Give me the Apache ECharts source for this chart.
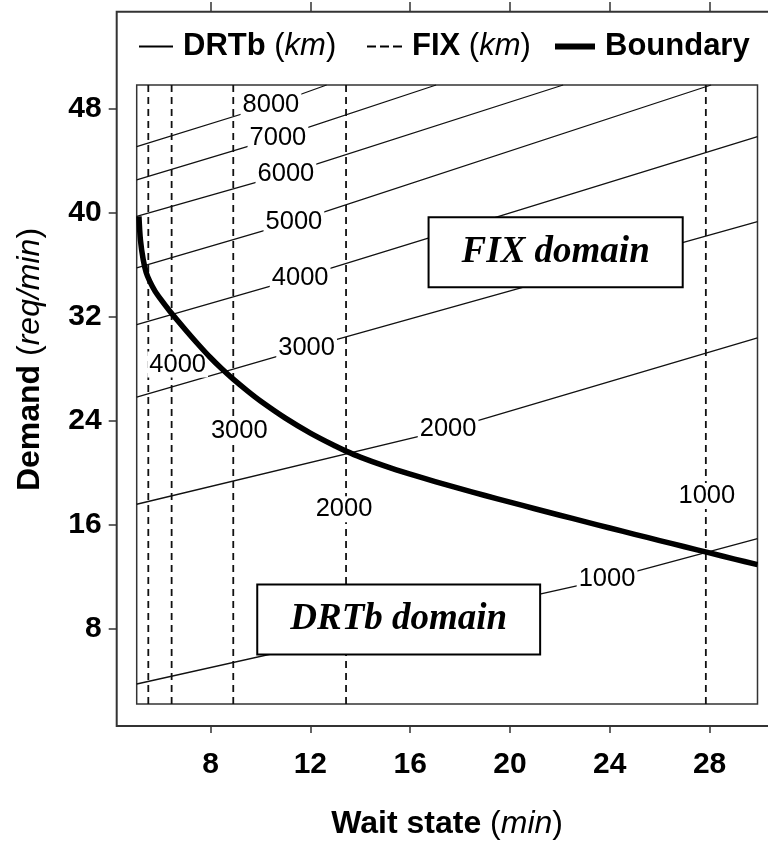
<!DOCTYPE html>
<html>
<head>
<meta charset="utf-8">
<script src="https://cdn.jsdelivr.net/npm/echarts@6/dist/echarts.min.js"></script>
<style>
  html, body { margin: 0; padding: 0; background: #fff; }
  #chart { width: 768px; height: 845px; }
</style>
</head>
<body>
<div id="chart"></div>
<script>
// Axis extents and tick values
const xRange = [5.04, 29.92];
const yRange = [2.18, 49.84];
const xTicks = [8, 12, 16, 20, 24, 28];
const yTicks = [8, 16, 24, 32, 40, 48];

// DRTb travel-distance contours (km): [wait, demand] vertices, middle vertex carries the label
const drtbLevels = [1000, 2000, 3000, 4000, 5000, 6000, 7000, 8000];
const drtb1000 = [[5.04, 3.72], [23.89, 11.79], [29.92, 14.92]];
const drtb2000 = [[5.04, 17.56], [17.52, 23.32], [29.92, 30.37]];
const drtb3000 = [[5.04, 25.8], [11.85, 29.6], [29.92, 39.33]];
const drtb4000 = [[5.04, 31.39], [11.59, 35.0], [29.92, 45.86]];
const drtb5000 = [[5.04, 35.75], [11.34, 39.3], [28.06, 49.84]];
const drtb6000 = [[5.04, 39.72], [11.02, 43.0], [22.13, 49.84]];
const drtb7000 = [[5.04, 42.54], [10.7, 45.8], [17.04, 49.84]];
const drtb8000 = [[5.04, 45.1], [10.42, 48.3], [12.65, 49.84]];
const drtbLines = [drtb1000, drtb2000, drtb3000, drtb4000, drtb5000, drtb6000, drtb7000, drtb8000];

// FIX travel-distance contours (km): vertical lines at a fixed wait state
const fixWait = [5.505, 6.44, 8.91, 13.43, 27.85];
const fixLevels = [null, 4000, 3000, 2000, 1000];
const fixLabelDemand = [null, 28.32, 23.19, 17.17, 18.19];

// Boundary between the two domains
const boundaryWait = [5.13, 5.19, 5.3, 5.42, 5.57, 5.78, 6.0, 6.37, 7.0, 7.5, 7.98, 8.45, 8.91, 9.5, 10, 11, 12, 13, 13.43, 14, 15, 16, 17, 18, 19, 20, 21, 22, 23, 24, 25, 26, 27, 28, 29, 29.92];
const boundaryDemand = [39.72, 37.9, 36.4, 35.4, 34.7, 33.95, 33.35, 32.42, 30.98, 29.88, 28.88, 27.99, 27.19, 26.25, 25.51, 24.19, 23.04, 22.04, 21.65, 21.19, 20.49, 19.87, 19.3, 18.76, 18.235, 17.72, 17.215, 16.715, 16.22, 15.73, 15.245, 14.765, 14.287, 13.812, 13.34, 12.91];

// Domain annotations
const domainNames = ['FIX domain', 'DRTb domain'];
const domainWait = [21.83, 15.54];
const domainDemand = [36.96, 8.68];

// ---- styling ----
const SANS = "'Liberation Sans', Arial, Helvetica, sans-serif";
const SERIF = "'Liberation Serif', 'Times New Roman', serif";
const INK = '#111';
const fixLabelShift = [0, 6, 6, -2, 1];

const chart = echarts.init(document.getElementById('chart'), null, { renderer: 'canvas' });

const contourLabel = {
  show: false,
  position: 'inside',
  fontFamily: SANS,
  fontSize: 25.5,
  color: '#000',
  backgroundColor: '#fff',
  padding: [0, 2]
};

const series = [];

drtbLines.forEach((pts, i) => {
  series.push({
    type: 'line',
    name: 'DRTb',
    z: 3,
    silent: true,
    animation: false,
    emphasis: { disabled: true },
    symbol: 'circle',
    symbolSize: 0,
    showSymbol: true,
    showAllSymbol: true,
    itemStyle: { color: INK },
    lineStyle: { color: INK, width: 1.3 },
    label: contourLabel,
    data: pts.map((p, j) => j === 1
      ? { value: p, label: { show: true, formatter: String(drtbLevels[i]) } }
      : { value: p })
  });
});

fixWait.forEach((w, i) => {
  const data = [[w, yRange[0]]];
  if (fixLevels[i] !== null) {
    data.push({
      value: [w, fixLabelDemand[i]],
      label: { show: true, formatter: String(fixLevels[i]), offset: [fixLabelShift[i], 0] }
    });
  }
  data.push([w, yRange[1]]);
  series.push({
    type: 'line',
    name: 'FIX',
    z: 3,
    silent: true,
    animation: false,
    emphasis: { disabled: true },
    symbol: 'circle',
    symbolSize: 0,
    showSymbol: true,
    showAllSymbol: true,
    itemStyle: { color: INK },
    lineStyle: { color: INK, width: 1.8, type: [7, 5] },
    label: contourLabel,
    data
  });
});

series.push({
  type: 'line',
  name: 'Boundary',
  z: 4,
  silent: true,
  animation: false,
  emphasis: { disabled: true },
  symbol: 'none',
  smooth: 0.3,
  itemStyle: { color: '#000' },
  lineStyle: { color: '#000', width: 5.5, cap: 'butt', join: 'round' },
  data: boundaryWait.map((w, i) => [w, boundaryDemand[i]])
});

series.push({
  type: 'scatter',
  name: 'domains',
  z: 6,
  silent: true,
  animation: false,
  symbolSize: 0,
  itemStyle: { opacity: 1 },
  emphasis: { disabled: true },
  label: {
    show: true,
    position: 'inside',
    formatter: p => p.name,
    fontFamily: SERIF,
    fontWeight: 'bold',
    fontStyle: 'italic',
    fontSize: 37,
    lineHeight: 38,
    color: '#000',
    opacity: 1,
    backgroundColor: '#fff',
    borderColor: '#000',
    borderWidth: 2,
    padding: [15, 32]
  },
  data: domainNames.map((n, i) => ({ name: n, value: [domainWait[i], domainDemand[i]] }))
});

const LF = 31;
const legendRich = {
  g: { width: 5, fontSize: LF, lineHeight: 30 },
  b: { fontFamily: SANS, fontWeight: 'bold', fontSize: LF, lineHeight: 30, color: '#000' },
  r: { fontFamily: SANS, fontWeight: 'normal', fontSize: LF, lineHeight: 30, color: '#000' },
  i: { fontFamily: SANS, fontStyle: 'italic', fontSize: LF, lineHeight: 30, color: '#000' }
};
function legendBlock(left, name, icon, w, h, text) {
  return {
    left, top: 31, padding: 0, itemGap: 0, selectedMode: false,
    itemWidth: w, itemHeight: h,
    itemStyle: { color: '#000' },
    data: [{ name, icon }],
    formatter: () => text,
    textStyle: { rich: legendRich }
  };
}

const AF = 32;
const axisRich = {
  b: { fontFamily: SANS, fontWeight: 'bold', fontSize: AF, color: '#000' },
  r: { fontFamily: SANS, fontWeight: 'normal', fontSize: AF, color: '#000' },
  i: { fontFamily: SANS, fontStyle: 'italic', fontSize: AF, color: '#000' }
};

const option = {
  backgroundColor: '#fff',
  animation: false,
  grid: {
    left: 136.7, top: 85, right: 768 - 757.5, bottom: 845 - 705,
    show: true, borderColor: '#333', borderWidth: 1.5, backgroundColor: 'transparent'
  },
  legend: [
    legendBlock(139, 'DRTb', 'path://M0 0H34V2H0Z', 34, 2, '{g| }{b|DRTb }{r|(}{i|km}{r|)}'),
    legendBlock(367, 'FIX', 'path://M0 0H9V2H0Z M13 0H22V2H13Z M26 0H35V2H26Z', 35, 2, '{g| }{b|FIX }{r|(}{i|km}{r|)}'),
    legendBlock(555, 'Boundary', 'path://M0 0H40V6H0Z', 40, 6, '{g| }{b|Boundary}')
  ],
  xAxis: [
    {
      type: 'value', position: 'bottom', offset: 21,
      min: xRange[0], max: xRange[1],
      axisLine: { show: false },
      splitLine: { show: false },
      axisTick: { show: true, length: 8, customValues: xTicks, lineStyle: { color: '#333', width: 1.5 } },
      axisLabel: { customValues: xTicks, margin: 25, fontFamily: SANS, fontWeight: 'bold', fontSize: 30, color: '#000' },
      name: '{b|Wait state }{r|(}{i|min}{r|)}',
      nameLocation: 'middle', nameGap: 83,
      nameTextStyle: { rich: axisRich }
    },
    {
      type: 'value', position: 'top', offset: 73,
      min: xRange[0], max: xRange[1],
      axisLine: { show: false },
      splitLine: { show: false },
      axisTick: { show: true, length: 10, customValues: xTicks, lineStyle: { color: '#333', width: 1.5 } },
      axisLabel: { show: false }
    }
  ],
  yAxis: [
    {
      type: 'value', position: 'left', offset: 20,
      min: yRange[0], max: yRange[1],
      axisLine: { show: false },
      splitLine: { show: false },
      axisTick: { show: true, length: 8, customValues: yTicks, lineStyle: { color: '#333', width: 1.5 } },
      axisLabel: { customValues: yTicks, margin: 15, fontFamily: SANS, fontWeight: 'bold', fontSize: 30, color: '#000' },
      name: '{b|Demand }{r|(}{i|req/min}{r|)}',
      nameLocation: 'middle', nameGap: 71,
      nameTextStyle: { rich: axisRich, padding: [0, 0, 0, 70] }
    }
  ],
  graphic: [
    {
      type: 'rect',
      silent: true,
      shape: { x: 116.7, y: 11.7, width: 680, height: 714.3 },
      style: { fill: 'none', stroke: '#333', lineWidth: 2 }
    }
  ],
  series
};

chart.setOption(option);
</script>
</body>
</html>
